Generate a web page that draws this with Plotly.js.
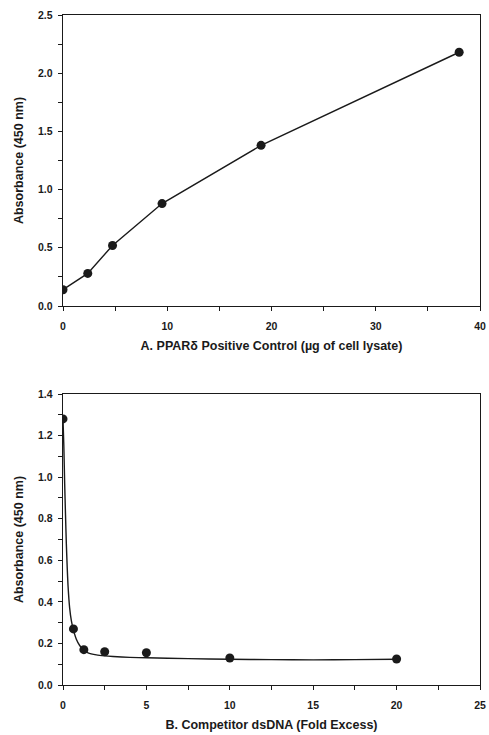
<!DOCTYPE html>
<html>
<head>
<meta charset="utf-8">
<script src="https://cdn.plot.ly/plotly-3.0.1.min.js"></script>
<style>html,body{margin:0;padding:0;background:#fff;}#chart{width:489px;height:735px;}</style>
</head>
<body>
<div id="chart"></div>
<script>
// Panel A: PPARδ positive control
const lysateUg = [0, 2.375, 4.75, 9.5, 19, 38];
const absorbanceA = [0.14, 0.28, 0.52, 0.88, 1.38, 2.18];

// Panel B: competitor dsDNA (measured points)
const foldExcess = [0, 0.625, 1.25, 2.5, 5, 10, 20];
const absorbanceB = [1.28, 0.27, 0.17, 0.16, 0.155, 0.13, 0.125];

// Panel B: fitted curve
const fitX = [0, 0.05, 0.1, 0.15, 0.2, 0.25, 0.3, 0.4, 0.5, 0.625, 0.8, 1.0, 1.25, 1.5, 2, 2.5, 3, 4, 5, 7.5, 10, 12.5, 15, 17.5, 20];
const fitY = [1.28, 1.15, 0.97, 0.82, 0.68, 0.57, 0.48, 0.37, 0.31, 0.265, 0.22, 0.19, 0.168, 0.155, 0.145, 0.14, 0.137, 0.133, 0.131, 0.127, 0.124, 0.122, 0.121, 0.122, 0.124];

const titleA_x = "A. PPARδ Positive Control (µg of cell lysate)";
const titleB_x = "B. Competitor dsDNA (Fold Excess)";
const titleY = "Absorbance (450 nm)";

const FONT = "Liberation Sans, Arial, Helvetica, sans-serif";
const ink = "#1a1a1a";
const W = 489, H = 735;

const tickFont = {family: FONT, size: 10.5, color: ink, weight: "bold"};
const titleFont = {family: FONT, size: 12.5, color: ink, weight: "bold"};

function axis(extra) {
  return Object.assign({
    showline: true, linecolor: ink, linewidth: 1.3, mirror: true,
    ticks: "outside", ticklen: 4, tickwidth: 1, tickcolor: ink,
    showgrid: false, zeroline: false,
    tickfont: tickFont, fixedrange: true
  }, extra);
}

const traces = [
  {x: lysateUg, y: absorbanceA, xaxis: "x", yaxis: "y", type: "scatter", mode: "lines+markers",
   line: {color: ink, width: 1.4}, marker: {color: ink, size: 9}},
  {x: fitX, y: fitY, xaxis: "x2", yaxis: "y2", type: "scatter", mode: "lines",
   line: {color: ink, width: 1.4, shape: "spline", smoothing: 0.6}},
  {x: foldExcess, y: absorbanceB, xaxis: "x2", yaxis: "y2", type: "scatter", mode: "markers",
   marker: {color: ink, size: 9}}
];

const layout = {
  width: W, height: H,
  margin: {l: 0, r: 0, t: 0, b: 0},
  paper_bgcolor: "#fff", plot_bgcolor: "#fff",
  showlegend: false,
  xaxis: axis({domain: [63 / W, 480 / W], anchor: "y", range: [0, 40], dtick: 10, tick0: 0,
    minor: {dtick: 5, ticks: "outside", ticklen: 4, tickcolor: ink, tickwidth: 1},
    ticklabelstandoff: 6,
    title: {text: titleA_x, font: titleFont, standoff: 10}}),
  yaxis: axis({domain: [(H - 306) / H, (H - 15) / H], anchor: "x", range: [0, 2.5], dtick: 0.5, tick0: 0,
    tickformat: ".1f",
    minor: {dtick: 0.25, ticks: "outside", ticklen: 4, tickcolor: ink, tickwidth: 1},
    ticklabelstandoff: 3,
    title: {text: titleY, font: titleFont, standoff: 11}}),
  xaxis2: axis({domain: [63 / W, 480 / W], anchor: "y2", range: [0, 25], dtick: 5, tick0: 0,
    minor: {dtick: 2.5, ticks: "outside", ticklen: 4, tickcolor: ink, tickwidth: 1},
    ticklabelstandoff: 6,
    title: {text: titleB_x, font: titleFont, standoff: 10}}),
  yaxis2: axis({domain: [(H - 685) / H, (H - 394) / H], anchor: "x2", range: [0, 1.4], dtick: 0.2, tick0: 0,
    tickformat: ".1f",
    minor: {dtick: 0.1, ticks: "outside", ticklen: 4, tickcolor: ink, tickwidth: 1},
    ticklabelstandoff: 3,
    title: {text: titleY, font: titleFont, standoff: 11}})
};

Plotly.newPlot("chart", traces, layout, {staticPlot: true, displayModeBar: false});
</script>
</body>
</html>
